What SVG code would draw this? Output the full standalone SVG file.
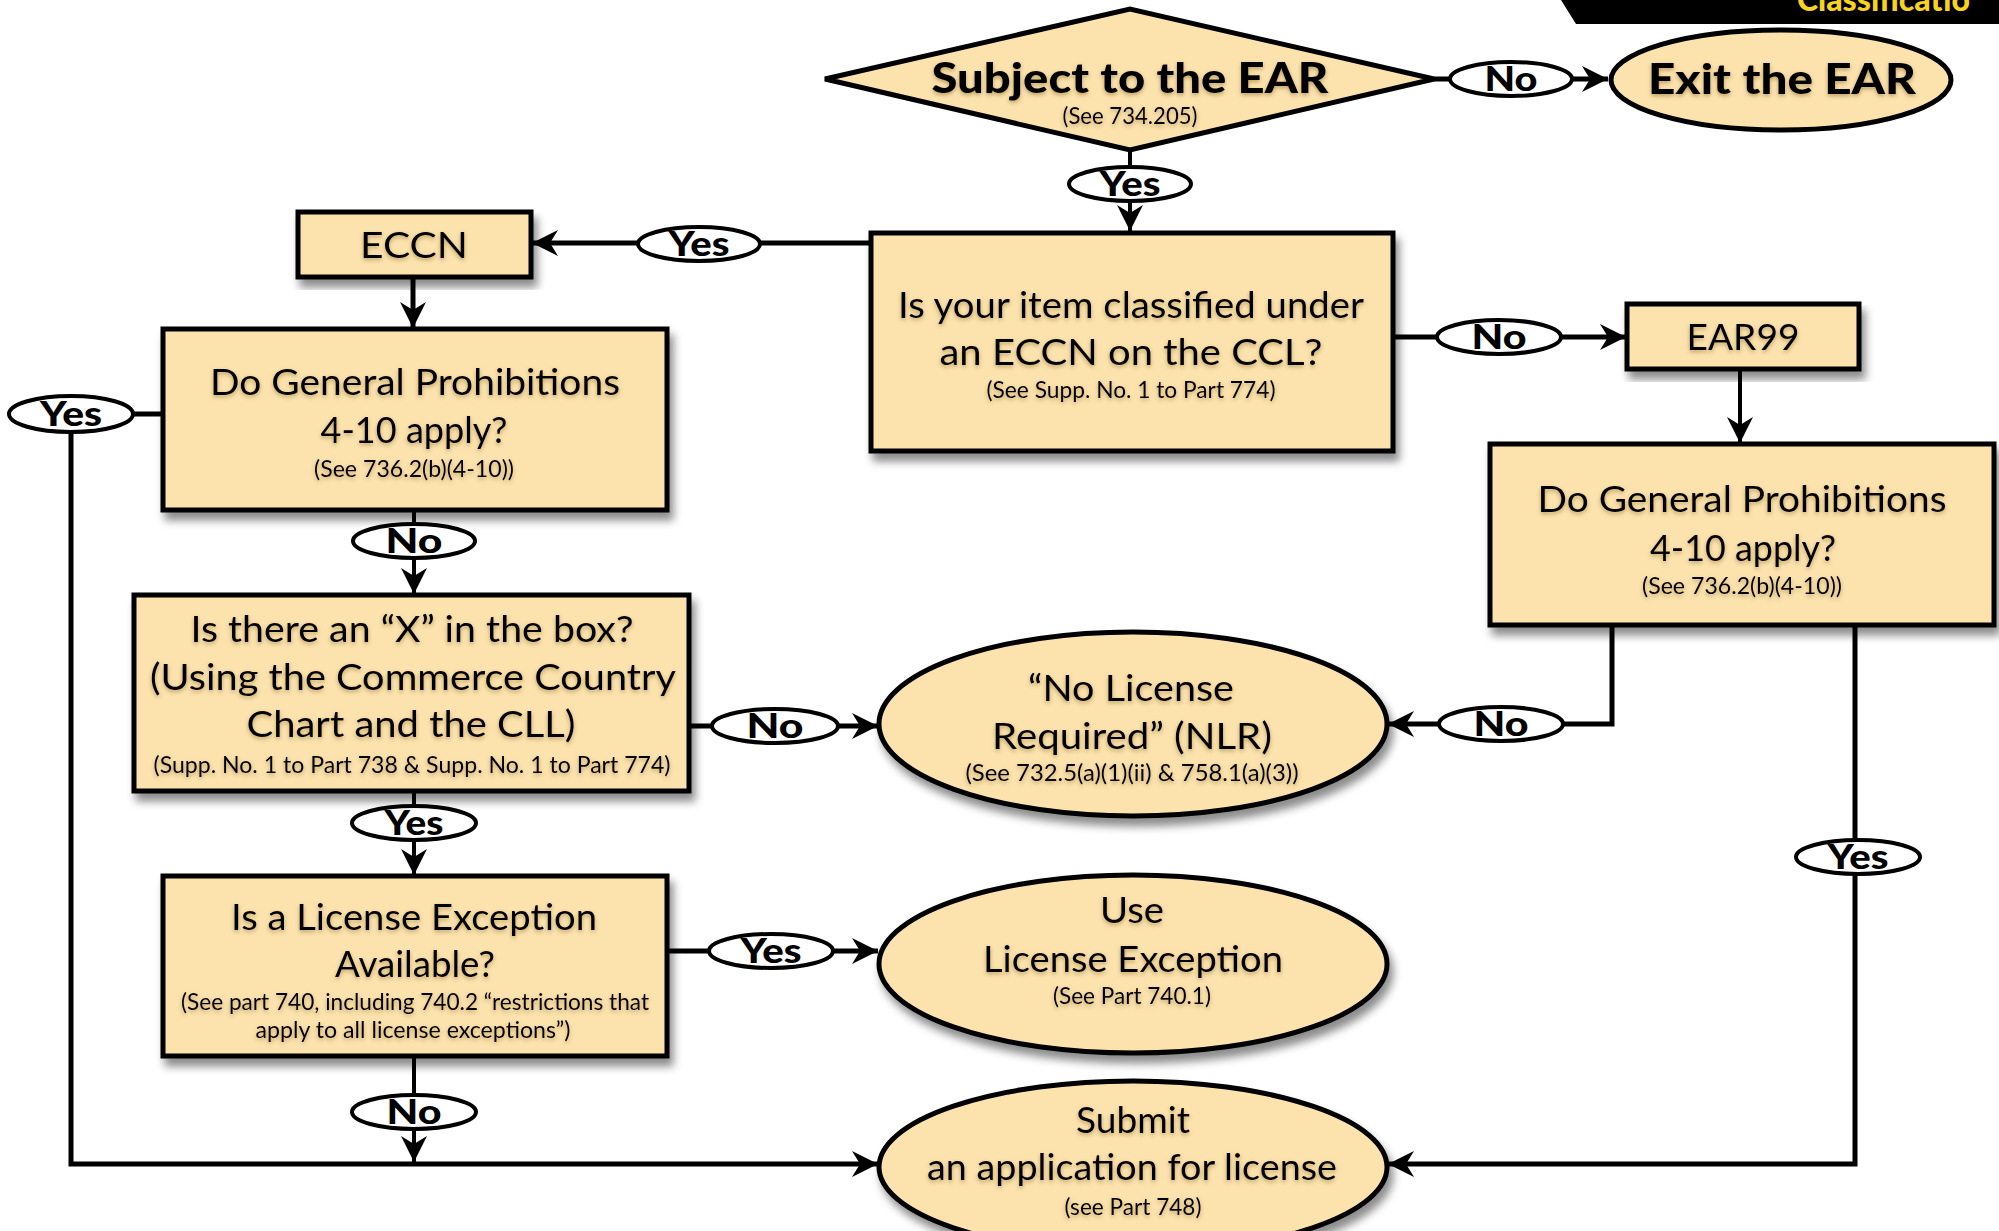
<svg xmlns="http://www.w3.org/2000/svg" width="1999" height="1231" viewBox="0 0 1999 1231">
  <style>
    .node { fill: #FCE3AE; stroke: #000; stroke-width: 5; }
    .shadowed { filter: url(#dropShadow); }
    .t { font-family: Lato, "Open Sans", "Liberation Sans", sans-serif; fill: #000; text-anchor: middle; filter: url(#textGlow); }
    .big { font-size: 37px; }
    .small { font-size: 23px; }
    .bold { font-size: 42px; font-weight: 900; }
    .wire { fill: none; stroke: #000; stroke-width: 5; }
    .wire-thin { fill: none; stroke: #000; stroke-width: 4; }
    .tag { fill: #fff; stroke: #000; stroke-width: 4; }
    .tagText { font-family: Lato, "Open Sans", "Liberation Sans", sans-serif; font-size: 34px; font-weight: 900; fill: #000; text-anchor: middle; }
    .banner { font-family: Lato, "Liberation Sans", sans-serif; font-size: 32px; font-weight: 900; fill: #F7D21E; }
  </style>
  <defs>
    <filter id="dropShadow" x="-10%" y="-10%" width="125%" height="130%">
      <feGaussianBlur in="SourceAlpha" stdDeviation="4"/>
      <feOffset dx="4" dy="8" result="blur"/>
      <feFlood flood-color="#000" flood-opacity="0.45"/>
      <feComposite in2="blur" operator="in" result="shadow"/>
      <feMerge><feMergeNode in="shadow"/><feMergeNode in="SourceGraphic"/></feMerge>
    </filter>
    <filter id="textGlow" x="-10%" y="-30%" width="120%" height="160%">
      <feGaussianBlur in="SourceAlpha" stdDeviation="2.2"/>
      <feOffset dx="0" dy="2" result="blur"/>
      <feFlood flood-color="#6b4a10" flood-opacity="0.45"/>
      <feComposite in2="blur" operator="in" result="glow"/>
      <feMerge><feMergeNode in="glow"/><feMergeNode in="SourceGraphic"/></feMerge>
    </filter>
    <marker id="arrow" markerUnits="userSpaceOnUse" markerWidth="30" markerHeight="30" viewBox="-28 -15 30 30" refX="0" refY="0" orient="auto">
      <path d="M0,0 L-26,-13 L-18,0 L-26,13 Z" fill="#000"/>
    </marker>
  </defs>

  <rect width="1999" height="1231" fill="#fff"/>

  <!-- title banner, top right -->
  <g id="banner">
    <polygon points="1561,0 1999,0 1999,24 1576,24" fill="#000"/>
    <text class="banner" x="1797" y="11">Classificatio</text>
  </g>

  <!-- connectors and their Yes/No tags -->
  <g id="connectors">
    <g id="ear-no">
      <path class="wire" d="M1434,79 L1608,79" marker-end="url(#arrow)"/>
      <ellipse class="tag" cx="1511" cy="79" rx="61" ry="17"/>
      <text class="tagText" x="1511" y="91" textLength="53" lengthAdjust="spacingAndGlyphs">No</text>
    </g>
    <g id="ear-yes">
      <path class="wire-thin" d="M1130,150 L1130,231" marker-end="url(#arrow)"/>
      <ellipse class="tag" cx="1130" cy="184" rx="61" ry="17"/>
      <text class="tagText" x="1130" y="196" textLength="61" lengthAdjust="spacingAndGlyphs">Yes</text>
    </g>
    <g id="ccl-yes">
      <path class="wire" d="M871,243 L532,243" marker-end="url(#arrow)"/>
      <ellipse class="tag" cx="699" cy="244" rx="61" ry="17"/>
      <text class="tagText" x="699" y="256" textLength="61" lengthAdjust="spacingAndGlyphs">Yes</text>
    </g>
    <g id="eccn-down">
      <path class="wire" d="M413,277 L413,328" marker-end="url(#arrow)"/>
    </g>
    <g id="gp-left-yes">
      <path class="wire" d="M163,414 L71,414 L71,1164 L878,1164" marker-end="url(#arrow)"/>
      <ellipse class="tag" cx="71" cy="414" rx="62" ry="18"/>
      <text class="tagText" x="71" y="426" textLength="62" lengthAdjust="spacingAndGlyphs">Yes</text>
    </g>
    <g id="gp-left-no">
      <path class="wire-thin" d="M414,510 L414,594" marker-end="url(#arrow)"/>
      <ellipse class="tag" cx="414" cy="541" rx="61" ry="17"/>
      <text class="tagText" x="414" y="553" textLength="57" lengthAdjust="spacingAndGlyphs">No</text>
    </g>
    <g id="box-no">
      <path class="wire" d="M689,726 L878,726" marker-end="url(#arrow)"/>
      <ellipse class="tag" cx="775" cy="726" rx="63" ry="17"/>
      <text class="tagText" x="775" y="738" textLength="57" lengthAdjust="spacingAndGlyphs">No</text>
    </g>
    <g id="box-yes">
      <path class="wire-thin" d="M414,791 L414,875" marker-end="url(#arrow)"/>
      <ellipse class="tag" cx="414" cy="823" rx="62" ry="17"/>
      <text class="tagText" x="414" y="835" textLength="59" lengthAdjust="spacingAndGlyphs">Yes</text>
    </g>
    <g id="exception-yes">
      <path class="wire" d="M667,951 L878,951" marker-end="url(#arrow)"/>
      <ellipse class="tag" cx="771" cy="951" rx="62" ry="17"/>
      <text class="tagText" x="771" y="963" textLength="61" lengthAdjust="spacingAndGlyphs">Yes</text>
    </g>
    <g id="exception-no">
      <path class="wire-thin" d="M414,1056 L414,1162" marker-end="url(#arrow)"/>
      <ellipse class="tag" cx="414" cy="1112" rx="62" ry="17"/>
      <text class="tagText" x="414" y="1124" textLength="55" lengthAdjust="spacingAndGlyphs">No</text>
    </g>
    <g id="ccl-no">
      <path class="wire" d="M1393,337 L1626,337" marker-end="url(#arrow)"/>
      <ellipse class="tag" cx="1499" cy="337" rx="62" ry="17"/>
      <text class="tagText" x="1499" y="349" textLength="55" lengthAdjust="spacingAndGlyphs">No</text>
    </g>
    <g id="ear99-down">
      <path class="wire-thin" d="M1740,369 L1740,443" marker-end="url(#arrow)"/>
    </g>
    <g id="gp-right-no">
      <path class="wire" d="M1612,625 L1612,724 L1388,724" marker-end="url(#arrow)"/>
      <ellipse class="tag" cx="1501" cy="724" rx="62" ry="17"/>
      <text class="tagText" x="1501" y="736" textLength="55" lengthAdjust="spacingAndGlyphs">No</text>
    </g>
    <g id="gp-right-yes">
      <path class="wire" d="M1855,625 L1855,1164 L1388,1164" marker-end="url(#arrow)"/>
      <ellipse class="tag" cx="1858" cy="857" rx="62" ry="17"/>
      <text class="tagText" x="1858" y="869" textLength="61" lengthAdjust="spacingAndGlyphs">Yes</text>
    </g>
  </g>

  <!-- decision and outcome nodes -->
  <g id="subject-to-ear">
    <polygon class="node" points="825,79 1130,9 1434,79 1130,150"/>
    <text class="t bold" x="1130" y="93" textLength="397" lengthAdjust="spacingAndGlyphs">Subject to the EAR</text>
    <text class="t small" x="1130" y="124" textLength="135" lengthAdjust="spacingAndGlyphs">(See 734.205)</text>
  </g>

  <g id="exit-ear">
    <ellipse class="node" cx="1781" cy="80" rx="170" ry="50"/>
    <text class="t bold" x="1782" y="94" textLength="268" lengthAdjust="spacingAndGlyphs">Exit the EAR</text>
  </g>

  <g id="classified" class="shadowed">
    <rect class="node" x="871" y="233" width="522" height="218"/>
    <text class="t big" x="1131" y="318" textLength="466" lengthAdjust="spacingAndGlyphs">Is your item classified under</text>
    <text class="t big" x="1131" y="365" textLength="383" lengthAdjust="spacingAndGlyphs">an ECCN on the CCL?</text>
    <text class="t small" x="1131" y="398" textLength="289" lengthAdjust="spacingAndGlyphs">(See Supp. No. 1 to Part 774)</text>
  </g>

  <g id="eccn" class="shadowed">
    <rect class="node" x="298" y="212" width="233" height="65"/>
    <text class="t big" x="414" y="258" textLength="108" lengthAdjust="spacingAndGlyphs">ECCN</text>
  </g>

  <g id="ear99" class="shadowed">
    <rect class="node" x="1627" y="304" width="232" height="65"/>
    <text class="t big" x="1743" y="350" textLength="113" lengthAdjust="spacingAndGlyphs">EAR99</text>
  </g>

  <g id="prohibitions-eccn" class="shadowed">
    <rect class="node" x="163" y="329" width="504" height="181"/>
    <text class="t big" x="415" y="395" textLength="410" lengthAdjust="spacingAndGlyphs">Do General Prohibitions</text>
    <text class="t big" x="414" y="443" textLength="187" lengthAdjust="spacingAndGlyphs">4-10 apply?</text>
    <text class="t small" x="414" y="477" textLength="200" lengthAdjust="spacingAndGlyphs">(See 736.2(b)(4-10))</text>
  </g>

  <g id="prohibitions-ear99" class="shadowed">
    <rect class="node" x="1490" y="444" width="504" height="181"/>
    <text class="t big" x="1742" y="512" textLength="409" lengthAdjust="spacingAndGlyphs">Do General Prohibitions</text>
    <text class="t big" x="1743" y="561" textLength="186" lengthAdjust="spacingAndGlyphs">4-10 apply?</text>
    <text class="t small" x="1742" y="594" textLength="200" lengthAdjust="spacingAndGlyphs">(See 736.2(b)(4-10))</text>
  </g>

  <g id="country-chart" class="shadowed">
    <rect class="node" x="134" y="595" width="555" height="196"/>
    <text class="t big" x="412" y="642" textLength="443" lengthAdjust="spacingAndGlyphs">Is there an “X” in the box?</text>
    <text class="t big" x="413" y="690" textLength="526" lengthAdjust="spacingAndGlyphs">(Using the Commerce Country</text>
    <text class="t big" x="411" y="737" textLength="329" lengthAdjust="spacingAndGlyphs">Chart and the CLL)</text>
    <text class="t small" x="412" y="773" textLength="517" lengthAdjust="spacingAndGlyphs">(Supp. No. 1 to Part 738 &amp;  Supp. No. 1 to Part 774)</text>
  </g>

  <g id="license-exception-check" class="shadowed">
    <rect class="node" x="163" y="876" width="504" height="180"/>
    <text class="t big" x="414" y="930" textLength="366" lengthAdjust="spacingAndGlyphs">Is a License Exception</text>
    <text class="t big" x="415" y="977" textLength="160" lengthAdjust="spacingAndGlyphs">Available?</text>
    <text class="t small" x="415" y="1010" textLength="468" lengthAdjust="spacingAndGlyphs">(See part 740, including 740.2 “restrictions that</text>
    <text class="t small" x="413" y="1038" textLength="315" lengthAdjust="spacingAndGlyphs">apply to all license exceptions”)</text>
  </g>

  <g id="nlr" class="shadowed">
    <ellipse class="node" cx="1133" cy="724" rx="254" ry="92"/>
    <text class="t big" x="1131" y="701" textLength="206" lengthAdjust="spacingAndGlyphs">“No License</text>
    <text class="t big" x="1132" y="749" textLength="280" lengthAdjust="spacingAndGlyphs">Required” (NLR)</text>
    <text class="t small" x="1132" y="781" textLength="333" lengthAdjust="spacingAndGlyphs">(See 732.5(a)(1)(ii) &amp; 758.1(a)(3))</text>
  </g>

  <g id="use-exception" class="shadowed">
    <ellipse class="node" cx="1133" cy="964" rx="254" ry="89"/>
    <text class="t big" x="1132" y="923" textLength="64" lengthAdjust="spacingAndGlyphs">Use</text>
    <text class="t big" x="1133" y="972" textLength="300" lengthAdjust="spacingAndGlyphs">License Exception</text>
    <text class="t small" x="1132" y="1004" textLength="158" lengthAdjust="spacingAndGlyphs">(See Part 740.1)</text>
  </g>

  <g id="submit-application" class="shadowed">
    <ellipse class="node" cx="1133" cy="1167" rx="254" ry="86"/>
    <text class="t big" x="1133" y="1133" textLength="114" lengthAdjust="spacingAndGlyphs">Submit</text>
    <text class="t big" x="1132" y="1180" textLength="410" lengthAdjust="spacingAndGlyphs">an application for license</text>
    <text class="t small" x="1133" y="1215" textLength="137" lengthAdjust="spacingAndGlyphs">(see Part 748)</text>
  </g>
</svg>
